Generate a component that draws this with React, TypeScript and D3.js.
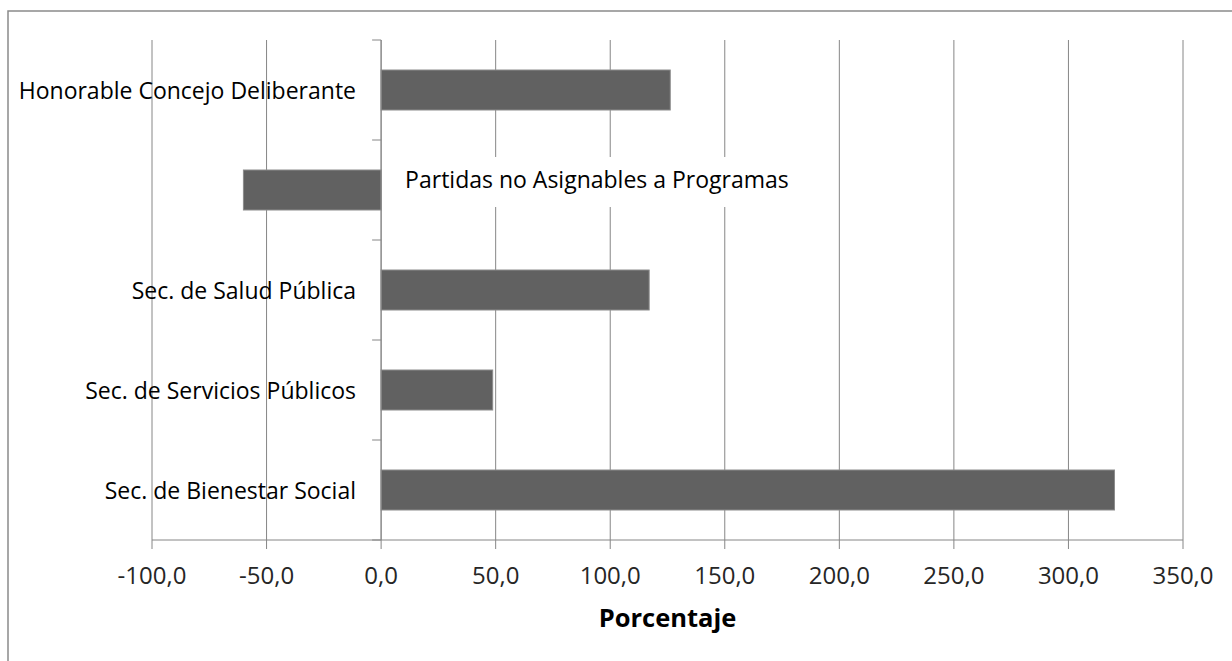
import React from "react";
import * as d3 from "d3";

// Variación porcentual por área de gobierno
const categories: string[] = [
  "Honorable Concejo Deliberante",
  "Partidas no Asignables a Programas",
  "Sec. de Salud Pública",
  "Sec. de Servicios Públicos",
  "Sec. de Bienestar Social",
];
const values: number[] = [126.2, -60.1, 117.0, 48.7, 320.1];
const xTicks: number[] = [-100, -50, 0, 50, 100, 150, 200, 250, 300, 350];
const xTitle = "Porcentaje";

const W = 1232;
const H = 661;
const plot = { left: 152, right: 1183, top: 40, bottom: 540 };
const FONT = "'Open Sans', 'Noto Sans', sans-serif";
const GRID = "#868686";

const fmt = (v: number) => v.toFixed(1).replace(".", ",");

export default function App() {
  const x = d3.scaleLinear().domain([-100, 350]).range([plot.left, plot.right]);
  const y = d3
    .scaleBand<string>()
    .domain(categories)
    .range([plot.top, plot.bottom])
    .paddingInner(0.6)
    .paddingOuter(0.3);
  const step = y.step();
  const bandTop = (c: string) => plot.top + categories.indexOf(c) * step;
  const boundaries = d3.range(categories.length + 1).map((i) => plot.top + i * step);
  const x0 = x(0);
  // the negative-valued category is labelled on the right of the axis
  const innerLabel = categories[1];
  const innerY = bandTop(innerLabel) + step / 2;

  return (
    <svg
      width={W}
      height={H}
      style={{ position: "absolute", left: 0, top: 0, background: "#fff" }}
      fontFamily={FONT}
    >
      <rect x={8} y={11} width={W + 20} height={H + 20} fill="#fff" stroke="#8a8a8a" strokeWidth={1.5} />

      {/* vertical gridlines */}
      {xTicks.map((t) => (
        <line key={"g" + t} x1={x(t)} x2={x(t)} y1={plot.top} y2={plot.bottom} stroke={GRID} strokeWidth={1} />
      ))}

      {/* label box that masks the gridlines behind it */}
      <rect x={x0 + 14} y={innerY - 33} width={405} height={50} fill="#fff" />
      <text x={x0 + 24} y={innerY - 1.7} fontSize={23} fill="#000">
        {innerLabel}
      </text>

      {/* bars */}
      {categories.map((c, i) => {
        const v = values[i];
        return (
          <rect
            key={c}
            x={Math.min(x(v), x0)}
            y={y(c)}
            width={Math.abs(x(v) - x0)}
            height={y.bandwidth()}
            fill="#616161"
            stroke="#8c8c8c"
            strokeWidth={1}
          />
        );
      })}

      {/* category axis */}
      <line x1={x0} x2={x0} y1={plot.top} y2={plot.bottom} stroke={GRID} strokeWidth={1} />
      {boundaries.map((b, i) => (
        <line key={"yt" + i} x1={x0 - 9} x2={x0} y1={b} y2={b} stroke={GRID} strokeWidth={1} />
      ))}
      {categories.map((c, i) =>
        i === 1 ? null : (
          <text
            key={"yl" + c}
            x={356}
            y={bandTop(c) + step / 2 + 8.7}
            textAnchor="end"
            fontSize={23}
            fill="#000"
          >
            {c}
          </text>
        )
      )}

      {/* value axis */}
      <line x1={plot.left} x2={plot.right} y1={plot.bottom} y2={plot.bottom} stroke={GRID} strokeWidth={1} />
      {xTicks.map((t) => (
        <g key={"xt" + t}>
          <line x1={x(t)} x2={x(t)} y1={plot.bottom} y2={plot.bottom + 9} stroke={GRID} strokeWidth={1} />
          <text x={x(t)} y={584} textAnchor="middle" fontSize={24} fill="#262626">
            {fmt(t)}
          </text>
        </g>
      ))}
      <text x={(plot.left + plot.right) / 2} y={627} textAnchor="middle" fontSize={25.5} fontWeight="bold" fill="#000">
        {xTitle}
      </text>
    </svg>
  );
}
